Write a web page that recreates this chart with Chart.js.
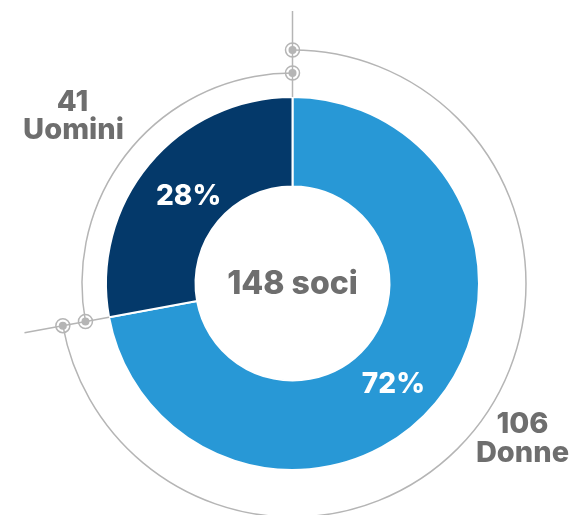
<!DOCTYPE html>
<html>
  <head>
    <title>Soci</title>
    <script src="https://cdn.jsdelivr.net/npm/chart.js"></script>
    <style>
      body { margin: 0; background: #fff; }
    </style>
  </head>
  <body>
    <canvas id="sociChart" width="576" height="515"></canvas>

    <script>
      const categories = ["Donne", "Uomini"];
      const counts = [106, 41];
      const colors = ["#2898d6", "#04396a"];
      const totalMembers = 148;
      const totalLabel = "soci";

      const gray = "#b5b5b5";
      const textGray = "#6e6e6e";
      const font = "Inter, 'Open Sans', sans-serif";
      // small nudges for the percentage labels
      const pctShift = [[-8, 8], [5, 2]];

      function marker(ctx, x, y) {
        ctx.beginPath();
        ctx.arc(x, y, 7, 0, Math.PI * 2);
        ctx.lineWidth = 1.5;
        ctx.strokeStyle = gray;
        ctx.stroke();
        ctx.beginPath();
        ctx.arc(x, y, 4, 0, Math.PI * 2);
        ctx.fillStyle = gray;
        ctx.fill();
      }

      const decorations = {
        id: "decorations",
        afterDatasetsDraw(chart) {
          const ctx = chart.ctx;
          const arcs = chart.getDatasetMeta(0).data;
          const first = arcs[0];
          const cx = first.x, cy = first.y;
          const R = first.outerRadius;
          const top = first.startAngle;
          const split = first.endAngle;
          const rOuter = R + 47, rInner = R + 24, rLine = R + 86;
          const pt = (r, a) => [cx + r * Math.cos(a), cy + r * Math.sin(a)];

          ctx.save();
          ctx.strokeStyle = gray;
          ctx.lineWidth = 1.5;
          // rings around each slice
          ctx.beginPath();
          ctx.arc(cx, cy, rOuter, top, split);
          ctx.stroke();
          ctx.beginPath();
          ctx.arc(cx, cy, rInner, split, top + Math.PI * 2);
          ctx.stroke();
          // radial lines at the slice borders
          [top, split].forEach((a) => {
            const p1 = pt(R, a), p2 = pt(rLine, a);
            ctx.beginPath();
            ctx.moveTo(p1[0], p1[1]);
            ctx.lineTo(p2[0], p2[1]);
            ctx.stroke();
          });
          [top, split].forEach((a) => {
            marker(ctx, ...pt(rOuter, a));
            marker(ctx, ...pt(rInner, a));
          });

          // percentages
          ctx.fillStyle = "#fff";
          ctx.font = "800 28px " + font;
          ctx.textAlign = "center";
          ctx.textBaseline = "middle";
          arcs.forEach((arc, i) => {
            const p = arc.tooltipPosition();
            const pct = Math.round((counts[i] / totalMembers) * 100) + "%";
            ctx.fillText(pct, p.x + pctShift[i][0], p.y + pctShift[i][1] + 2);
          });

          // centre label
          ctx.fillStyle = textGray;
          ctx.font = "800 32px " + font;
          ctx.fillText(totalMembers + " " + totalLabel, cx, cy + 1);

          // outer labels
          ctx.font = "800 29px " + font;
          ctx.fillText(String(counts[1]), cx - 220, cy - 181);
          ctx.fillText(categories[1], cx - 219, cy - 153);
          ctx.fillText(String(counts[0]), cx + 230, cy + 141);
          ctx.fillText(categories[0], cx + 230, cy + 170);
          ctx.restore();
        },
      };

      new Chart(document.getElementById("sociChart"), {
        type: "doughnut",
        data: {
          labels: categories,
          datasets: [
            {
              data: counts,
              backgroundColor: colors,
              borderColor: "#fff",
              borderWidth: 2,
            },
          ],
        },
        options: {
          responsive: false,
          animation: false,
          cutout: "52%",
          layout: { padding: { left: 105, right: 96, top: 96, bottom: 44 } },
          plugins: {
            legend: { display: false },
            tooltip: { enabled: false },
          },
        },
        plugins: [decorations],
      });
    </script>
  </body>
</html>
